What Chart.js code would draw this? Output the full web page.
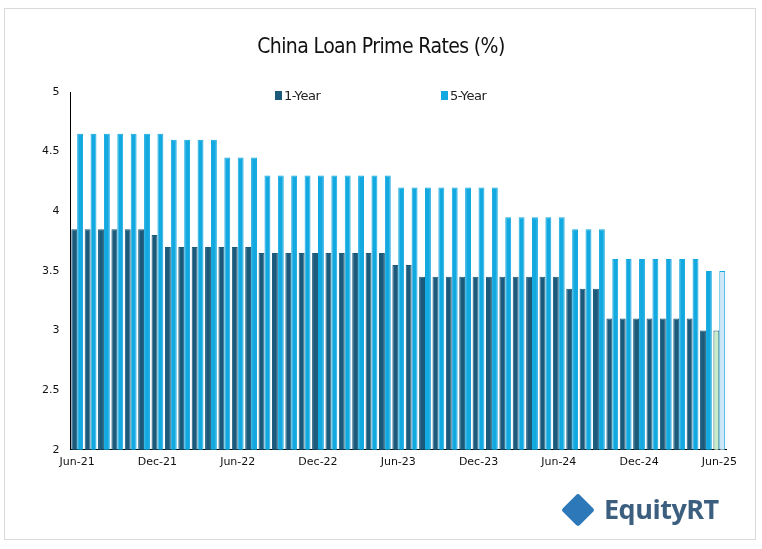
<!DOCTYPE html>
<html>
<head>
<meta charset="utf-8">
<script src="https://cdn.jsdelivr.net/npm/chart.js@4/dist/chart.umd.min.js"></script>
<style>
  html, body { margin: 0; padding: 0; background: #fff; }
  #frame { position: absolute; left: 4px; top: 8px; width: 750px; height: 530px; border: 1px solid #d9d9d9; }
  #wrap { position: absolute; left: 0; top: 0; width: 762px; height: 549px; }
  #title { position: absolute; top: 34px; width: 762px; text-align: center; font: 21px "DejaVu Sans Condensed", "DejaVu Sans", sans-serif; color: #111; letter-spacing: -0.6px; }
  .leg { position: absolute; top: 88px; font: 13px "DejaVu Sans", sans-serif; color: #222; letter-spacing: -0.4px; }
  .leg i { display: inline-block; width: 7px; height: 9px; margin-right: 2px; }
  #logo { position: absolute; left: 566px; top: 490px; font: bold 27px "Open Sans", sans-serif; color: #3c5f7f; letter-spacing: -0.5px; }
  #logo b { display: inline-block; width: 24px; height: 24px; background: #2c78b8; transform: rotate(45deg); margin-right: 14px; vertical-align: -3px; border-radius: 3px; }
</style>
</head>
<body>
<div id="frame"></div>
<div id="wrap"><canvas id="c" width="762" height="549"></canvas></div>
<div id="title">China Loan Prime Rates (%)</div>
<div class="leg" style="left:275px"><i style="background:#1b5a7a"></i>1-Year</div>
<div class="leg" style="left:441px"><i style="background:#12a8e0"></i>5-Year</div>
<div id="logo"><b></b>EquityRT</div>
<script>
const months = ["Jun-21","Jul-21","Aug-21","Sep-21","Oct-21","Nov-21","Dec-21",
  "Jan-22","Feb-22","Mar-22","Apr-22","May-22","Jun-22","Jul-22","Aug-22","Sep-22","Oct-22","Nov-22","Dec-22",
  "Jan-23","Feb-23","Mar-23","Apr-23","May-23","Jun-23","Jul-23","Aug-23","Sep-23","Oct-23","Nov-23","Dec-23",
  "Jan-24","Feb-24","Mar-24","Apr-24","May-24","Jun-24","Jul-24","Aug-24","Sep-24","Oct-24","Nov-24","Dec-24",
  "Jan-25","Feb-25","Mar-25","Apr-25","May-25","Jun-25"];
const oneYear = [3.85,3.85,3.85,3.85,3.85,3.85,3.80,
  3.70,3.70,3.70,3.70,3.70,3.70,3.70,3.65,3.65,3.65,3.65,3.65,
  3.65,3.65,3.65,3.65,3.65,3.55,3.55,3.45,3.45,3.45,3.45,3.45,
  3.45,3.45,3.45,3.45,3.45,3.45,3.35,3.35,3.35,3.10,3.10,3.10,
  3.10,3.10,3.10,3.10,3.00,3.00];
const fiveYear = [4.65,4.65,4.65,4.65,4.65,4.65,4.65,
  4.60,4.60,4.60,4.60,4.45,4.45,4.45,4.30,4.30,4.30,4.30,4.30,
  4.30,4.30,4.30,4.30,4.30,4.20,4.20,4.20,4.20,4.20,4.20,4.20,
  4.20,3.95,3.95,3.95,3.95,3.95,3.85,3.85,3.85,3.60,3.60,3.60,
  3.60,3.60,3.60,3.60,3.50,3.50];
const yTicks = [2, 2.5, 3, 3.5, 4, 4.5, 5];

(function () {
  "use strict";
  const last = months.length - 1;
  const fill = (base, hi) => months.map((m, i) => i === last ? hi : base);

  new Chart(document.getElementById("c"), {
    type: "bar",
    data: {
      labels: months,
      datasets: [
        { label: "1-Year", data: oneYear,
          backgroundColor: fill("#1b5a7a", "#c8ecc8"),
          borderColor: fill("#1b5a7a", "#1b5a7a"),
          borderWidth: 1,
          categoryPercentage: 0.88, barPercentage: 1 },
        { label: "5-Year", data: fiveYear,
          backgroundColor: fill("#12a8e0", "#cfe6f8"),
          borderColor: fill("#12a8e0", "#12a8e0"),
          borderWidth: 1,
          categoryPercentage: 0.88, barPercentage: 1 }
      ]
    },
    options: {
      responsive: false,
      animation: false,
      layout: { padding: { left: 36, right: 36, top: 92, bottom: 74 } },
      plugins: { legend: { display: false }, tooltip: { enabled: false } },
      scales: {
        x: {
          grid: { display: false, drawTicks: false },
          border: { display: true, color: "#000" },
          ticks: {
            autoSkip: false, maxRotation: 0, padding: 6,
            color: "#111", font: { family: "DejaVu Sans", size: 11 },
            callback: (v, i) => i % 6 === 0 ? months[i] : ""
          }
        },
        y: {
          min: 2, max: 5,
          afterBuildTicks: ax => { ax.ticks = yTicks.map(v => ({ value: v })); },
          grid: { display: false, drawTicks: true, tickLength: 5, color: "#000" },
          border: { display: true, color: "#000" },
          ticks: { color: "#111", padding: 6, font: { family: "DejaVu Sans", size: 11 },
            callback: v => String(v) }
        }
      }
    }
  });
})();
</script>
</body>
</html>
